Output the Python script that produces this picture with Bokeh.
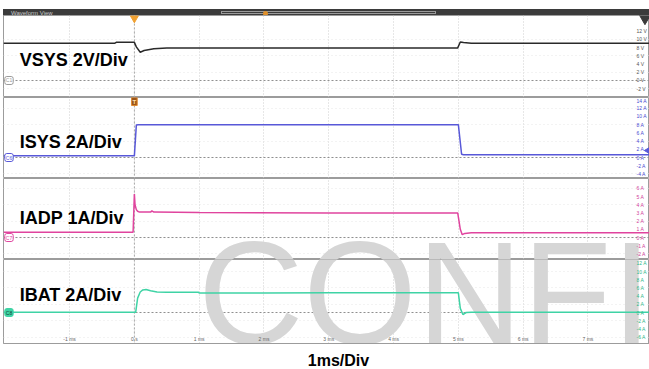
import numpy as np
from bokeh.plotting import figure
from bokeh.models import Range1d, FixedTicker, Span, Label, Div
from bokeh.layouts import column
from bokeh.embed import file_html
from bokeh.resources import INLINE
from bokeh.core.properties import value

# ---------------- data (read from the scope capture) ----------------
x_ticks = [-1, 0, 1, 2, 3, 4, 5, 6, 7]
x_tick_labels = ["-1 ms", "0 s", "1 ms", "2 ms", "3 ms", "4 ms", "5 ms", "6 ms", "7 ms"]

t_vsys = [-2.02, -1.0, -0.3, -0.28, 0.0, 0.03, 0.09, 0.15, 0.3, 0.5, 1.0, 3.0, 4.99, 5.03, 5.08, 5.2, 6.0, 7.95]
vsys = [9.1, 9.1, 9.1, 9.3, 9.3, 8.2, 6.9, 7.3, 7.75, 7.9, 7.95, 7.95, 7.95, 9.4, 9.25, 9.1, 9.1, 9.1]

t_isys = [-2.02, 0.0, 0.03, 0.06, 5.0, 5.05, 5.08, 7.95]
isys = [0.4, 0.4, 7.9, 8.0, 8.0, 0.8, 0.65, 0.65]

t_iadp = [-2.02, -0.02, 0.0, 0.01, 0.03, 0.05, 0.08, 0.25, 0.27, 0.3, 1.0, 3.0, 4.99, 5.03, 5.06, 5.1, 5.2, 6.0, 7.95]
iadp = [0.65, 0.65, 5.3, 4.0, 3.4, 3.2, 3.1, 3.1, 3.25, 3.1, 3.05, 3.0, 3.0, 1.0, 0.35, 0.5, 0.57, 0.57, 0.57]

t_ibat = [-2.02, 0.02, 0.05, 0.09, 0.13, 0.18, 0.25, 0.35, 0.5, 0.99, 1.0, 2.0, 3.0, 4.0, 5.0, 5.03, 5.07, 5.12, 5.2, 6.0, 7.95]
ibat = [0.05, 0.05, 3.5, 5.0, 5.5, 5.6, 5.3, 5.0, 4.95, 4.95, 4.75, 4.75, 4.8, 4.8, 4.8, 1.0, -0.5, 0.0, 0.07, 0.07, 0.07]

vsys_ticks = [-2, 0, 2, 4, 6, 8, 10, 12]
vsys_tick_labels = ["-2 V", "0 V", "2 V", "4 V", "6 V", "8 V", "10 V", "12 V"]
isys_ticks = [-4, -2, 0, 2, 4, 6, 8, 10, 12, 14]
isys_tick_labels = ["-4 A", "-2 A", "0 A", "2 A", "4 A", "6 A", "8 A", "10 A", "12 A", "14 A"]
iadp_ticks = [-2, -1, 0, 1, 2, 3, 4, 5, 6]
iadp_tick_labels = ["-2 A", "-1 A", "0 A", "1 A", "2 A", "3 A", "4 A", "5 A", "6 A"]
ibat_ticks = [-6, -4, -2, 0, 2, 4, 6, 8, 10, 12]
ibat_tick_labels = ["-6 A", "-4 A", "-2 A", "0 A", "2 A", "4 A", "6 A", "8 A", "10 A", "12 A"]

channel_names = ["VSYS 2V/Div", "ISYS 2A/Div", "IADP 1A/Div", "IBAT 2A/Div"]
channel_tags = ["C1", "C6", "C7", "C8"]
time_label = "1ms/Div"
watermark = "CONFID"
trigger_t = 0.0

# ---------------- styling ----------------
FONT = "Liberation Sans"
X_RANGE = Range1d(-2.02, 7.95)
C_VSYS = "#2a2a2a"
C_ISYS = "#5858d8"
C_IADP = "#e0449e"
C_IBAT = "#3fd3a5"


def panel(frame_h, y_lo, y_hi, ticks, tick_labels, tick_color, bottom=False):
    p = figure(frame_width=646, frame_height=frame_h, x_range=X_RANGE,
               y_range=Range1d(y_lo, y_hi), y_axis_location="right",
               x_axis_location=("below" if bottom else None),
               output_backend="svg", toolbar_location=None,
               min_border_left=3, min_border_right=0, min_border_top=0,
               min_border_bottom=(26 if bottom else 0),
               background_fill_color="white", border_fill_color="white")
    p.outline_line_color = "#9c9c9c"
    p.outline_line_width = 1

    yax = p.yaxis[0]
    yax.ticker = FixedTicker(ticks=ticks)
    yax.major_label_overrides = dict(zip(ticks, tick_labels))
    yax.major_label_standoff = -13
    yax.major_tick_in = 0
    yax.major_tick_out = 0
    yax.minor_tick_in = 0
    yax.minor_tick_out = 0
    yax.axis_line_color = None
    yax.major_label_text_font_size = "5px"
    yax.major_label_text_font = FONT
    yax.major_label_text_color = tick_color

    p.xgrid.ticker = FixedTicker(ticks=x_ticks)
    p.xgrid.grid_line_color = "#cfcfcf"
    p.xgrid.grid_line_dash = "1 2"
    p.ygrid.ticker = FixedTicker(ticks=ticks[::2])
    p.ygrid.grid_line_color = "#e6e6e6"
    p.ygrid.grid_line_dash = "1 3"

    p.add_layout(Span(location=0, dimension="width", line_color="#8f8f8f",
                      line_dash="2 2", line_width=1, level="underlay"))
    p.add_layout(Span(location=trigger_t, dimension="height", line_color="#a8a8a8",
                      line_dash="2 2", line_width=1, level="underlay"))
    return p


def tag(p, text, color, filled=False):
    p.add_layout(Label(x=-2.0, y=0, text=text, text_font=FONT, text_font_size="5px",
                       text_color=("#114433" if filled else color), text_baseline="middle",
                       text_align="left",
                       background_fill_color=(color if filled else "white"),
                       border_line_color=color, border_line_width=1,
                       padding=1, border_radius=2))


def name(p, text, y):
    p.add_layout(Label(x=-1.77, y=y, text=text, text_font=FONT, text_font_size="18px",
                       text_font_style="bold", text_color="black", text_baseline="middle",
                       text_align="left"))


p1 = panel(82, -4.15, 15.85, vsys_ticks, vsys_tick_labels, "#555555")
p2 = panel(81, -5.12, 14.63, isys_ticks, isys_tick_labels, "#4a4ad0")
p3 = panel(81, -2.68, 7.2, iadp_ticks, iadp_tick_labels, "#d0409a")
p4 = panel(84, -7.56, 12.93, ibat_ticks, ibat_tick_labels, "#2fb88a", bottom=True)

# watermark (drawn first, under the traces); same centre line (~293 px) in both panels
for pp, yc in ((p3, -6.77), (p4, 4.75)):
    pp.text(x=[0.98], y=[yc], text=[watermark], text_font=value(FONT),
            text_font_size=value("146px"), text_color=value("#d6d6d6"),
            text_baseline=value("middle"), text_align=value("left"))

p1.line(t_vsys, vsys, line_color=C_VSYS, line_width=1.5)
p2.line(t_isys, isys, line_color=C_ISYS, line_width=1.5)
p3.line(t_iadp, iadp, line_color=C_IADP, line_width=1.5)
p4.line(t_ibat, ibat, line_color=C_IBAT, line_width=1.5)

name(p1, channel_names[0], 4.9)
name(p2, channel_names[1], 3.9)
name(p3, channel_names[2], 2.44)
name(p4, channel_names[3], 4.15)

tag(p1, channel_tags[0], "#9a9a9a")
tag(p2, channel_tags[1], C_ISYS)
tag(p3, channel_tags[2], C_IADP)
tag(p4, channel_tags[3], C_IBAT, filled=True)

# trigger markers
p1.scatter([trigger_t], [15.2], marker="inverted_triangle", size=8, color="#f0a030")
p2.add_layout(Label(x=trigger_t, y=14.63, text="T", text_font=FONT, text_font_size="6px",
                    text_font_style="bold", text_color="#ffe0b0", text_baseline="top",
                    text_align="center", background_fill_color="#9c5518",
                    border_line_color="#e08a30", padding=1))
p1.scatter([7.88], [15.3], marker="inverted_triangle", size=12, color="#3a3a3a")
p2.scatter([7.95], [1.7], marker="triangle", angle=np.pi / 2, size=9, color=C_ISYS)

# bottom time axis
xax = p4.xaxis[0]
xax.ticker = FixedTicker(ticks=x_ticks)
xax.major_label_overrides = dict(zip(x_ticks, x_tick_labels))
xax.major_tick_in = 0
xax.major_tick_out = 0
xax.minor_tick_in = 0
xax.minor_tick_out = 0
xax.axis_line_color = "#9c9c9c"
xax.major_label_standoff = -8
xax.major_label_text_font_size = "5px"
xax.major_label_text_font = FONT
xax.major_label_text_color = "#666666"
xax.axis_label = "\u2002\u2002\u2002" + time_label
xax.axis_label_text_font = FONT
xax.axis_label_text_font_size = "16px"
xax.axis_label_text_font_style = "bold"
xax.axis_label_text_color = "black"
xax.axis_label_standoff = 7

header_html = (
    '<div style="position:relative;width:646px;height:9px;background:#3b3b3b;overflow:hidden;'
    'font-family:\'Liberation Sans\',Arial,sans-serif;font-size:6px;line-height:9px;color:#c8c8c8;">'
    '<span style="position:absolute;left:8px;top:0px;">Waveform View</span>'
    '<span style="position:absolute;left:218px;top:2px;width:215px;height:3px;border:1px solid #9a9a9a;"></span>'
    '<span style="position:absolute;left:260px;top:2px;width:5px;height:5px;border-radius:3px;background:#e0902a;"></span>'
    '</div>'
)
header = Div(text=header_html, width=646, height=9, margin=(6, 0, 0, 3))

layout = column(header, p1, p2, p3, p4, spacing=0)

open("out.html", "w").write(file_html(layout, INLINE))
